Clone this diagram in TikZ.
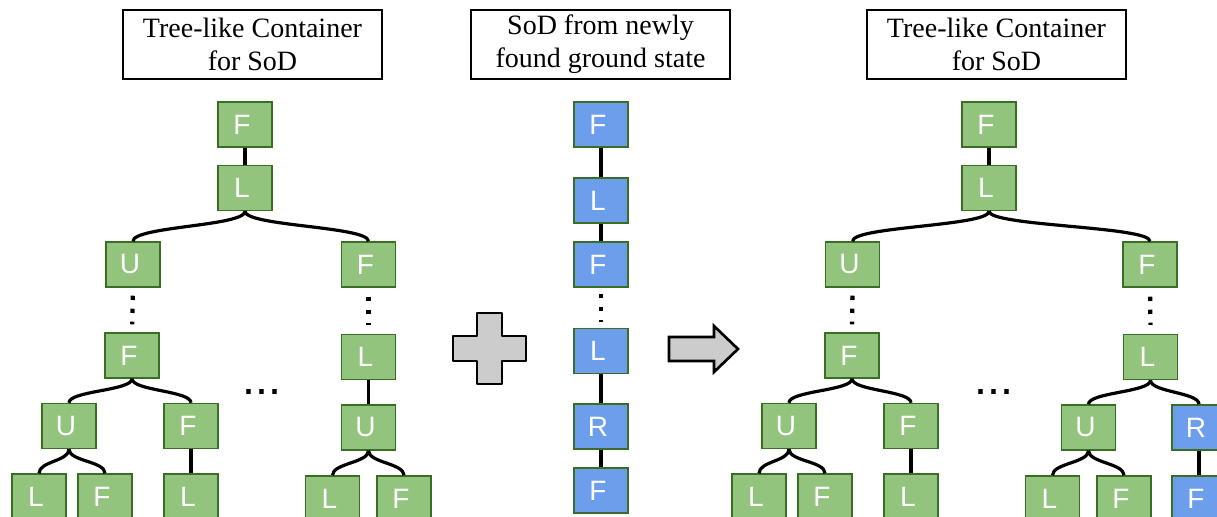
\documentclass[tikz,border=0pt]{standalone}
\usepackage{fontspec}
\setmainfont{Liberation Serif}
\newfontfamily\boxfont{Liberation Sans}
\definecolor{leafgreen}{HTML}{93C47D}
\definecolor{rimgreen}{HTML}{3A6E24}
\definecolor{freshblue}{HTML}{6D9EEB}
\definecolor{signgray}{HTML}{CCCCCC}
% curved parent-to-child branch
\newcommand\branch[3][12]{\draw[edge] (#2.south) .. controls +(0,#1) and +(0,-#1) .. (#3.north);}
\begin{document}
\begin{tikzpicture}[x=0.75pt,y=-0.75pt,
  state/.style={draw=rimgreen, line width=1.1pt, minimum width=40.5pt, minimum height=33.75pt,
    inner sep=0pt, text=white, font=\boxfont\fontsize{21}{25}\selectfont,
    execute at end node={\kern4.5pt}},
  known/.style={state, fill=leafgreen},
  fresh/.style={state, fill=freshblue},
  title/.style={draw=black, line width=1pt, minimum width=194.25pt, minimum height=51.75pt,
    inner sep=0pt, align=center, font=\fontsize{21}{24.75}\selectfont},
  edge/.style={line width=2.4pt},
  dotline/.style={line width=3.2pt, dash pattern=on 3.2pt off 6.55pt},
  sign/.style={draw=black, fill=signgray, line width=2pt, line join=round},
  more/.style={font=\boxfont\fontsize{35}{40}\selectfont, inner sep=0pt, anchor=base},
]
\useasboundingbox (0,0) rectangle (1217,517);
\clip (0,0) rectangle (1217,517);

% ---------- titles ----------
\node[title] (tleft)  at (252.5,44.5) {Tree-like Container\\for SoD};
\node[title] (tmid)   at (600.5,44.5) {SoD from newly\\found ground state};
\node[title] (tright) at (996.5,44.5) {Tree-like Container\\for SoD};

% ---------- left container ----------
\node[known] (lF)   at (245,124.5) {F};
\node[known] (lL)   at (245,188)   {L};
\node[known] (lU)   at (133,264.5) {U};
\node[known] (lF2)  at (368.5,264.5) {F};
\node[known] (lFa)  at (132,355.5) {F};
\node[known] (lUa)  at (69,426)    {U};
\node[known] (lFb)  at (191,426)   {F};
\node[known] (lL1)  at (39,496.5)  {L};
\node[known] (lF1)  at (105,496.5) {F};
\node[known] (lL2)  at (191,496.5) {L};
\node[known] (lLr)  at (368.5,357) {L};
\node[known] (lUr)  at (368.5,427.5) {U};
\node[known] (lLr1) at (332.5,498.5) {L};
\node[known] (lFr1) at (404,498.5) {F};
\node[more]  (lmore) at (262,394.5) {...};

\draw[edge] (lF) -- (lL);
\branch[15]{lL}{lU}
\branch[15]{lL}{lF2}
\draw[dotline, shorten <=6pt, shorten >=6pt] (lU.south) -- (lFa.north);
\branch{lFa}{lUa}
\branch{lFa}{lFb}
\branch{lUa}{lL1}
\branch{lUa}{lF1}
\draw[edge] (lFb) -- (lL2);
\draw[dotline, shorten <=6.75pt, shorten >=6.75pt] (lF2.south) -- (lLr.north);
\draw[edge] (lLr) -- (lUr);
\branch{lUr}{lLr1}
\branch{lUr}{lFr1}

% ---------- newly found sequence ----------
\node[fresh] (mF1) at (601,124.5) {F};
\node[fresh] (mL1) at (601,200.5) {L};
\node[fresh] (mF2) at (601,264.5) {F};
\node[fresh] (mL2) at (601,351)   {L};
\node[fresh] (mR)  at (601,426.5) {R};
\node[fresh] (mF3) at (601,490.5) {F};

\draw[edge] (mF1) -- (mL1);
\draw[edge] (mL1) -- (mF2);
\draw[dotline, shorten <=4.5pt, shorten >=4.5pt] (mF2.south) -- (mL2.north);
\draw[edge] (mL2) -- (mR);
\draw[edge] (mR) -- (mF3);

% ---------- plus sign and arrow ----------
\draw[sign] (477,313) -- (502,313) -- (502,336) -- (526,336) -- (526,361) -- (502,361)
  -- (502,384) -- (477,384) -- (477,361) -- (453,361) -- (453,336) -- (477,336) -- cycle;
\draw[sign, line join=miter] (669,337) -- (714,337) -- (714,326) -- (738,349) -- (714,372)
  -- (714,361) -- (669,361) -- cycle;

% ---------- merged container ----------
\node[known] (rF)   at (989,124.5) {F};
\node[known] (rL)   at (989,188)   {L};
\node[known] (rU)   at (852.5,264.5) {U};
\node[known] (rF2)  at (1150,264.5) {F};
\node[known] (rFa)  at (852,355.5) {F};
\node[known] (rUa)  at (789,426)   {U};
\node[known] (rFb)  at (911,426)   {F};
\node[known] (rL1)  at (759,496.5) {L};
\node[known] (rF1)  at (825,496.5) {F};
\node[known] (rL2)  at (911,496.5) {L};
\node[known] (rLr)  at (1150.5,357) {L};
\node[known] (rUr)  at (1088.5,427.5) {U};
\node[fresh] (rR)   at (1199,427.5) {R};
\node[known] (rLr1) at (1052.5,498.5) {L};
\node[known] (rFr1) at (1124,498.5) {F};
\node[fresh] (rFn)  at (1199,498.5) {F};
\node[more]  (rmore) at (993.5,394.5) {...};

\draw[edge] (rF) -- (rL);
\branch[15]{rL}{rU}
\branch[15]{rL}{rF2}
\draw[dotline, shorten <=6pt, shorten >=6pt] (rU.south) -- (rFa.north);
\branch{rFa}{rUa}
\branch{rFa}{rFb}
\branch{rUa}{rL1}
\branch{rUa}{rF1}
\draw[edge] (rFb) -- (rL2);
\draw[dotline, shorten <=6.75pt, shorten >=6.75pt] (rF2.south) -- (rLr.north);
\branch{rLr}{rUr}
\branch{rLr}{rR}
\branch{rUr}{rLr1}
\branch{rUr}{rFr1}
\draw[edge] (rR) -- (rFn);
\end{tikzpicture}
\end{document}
